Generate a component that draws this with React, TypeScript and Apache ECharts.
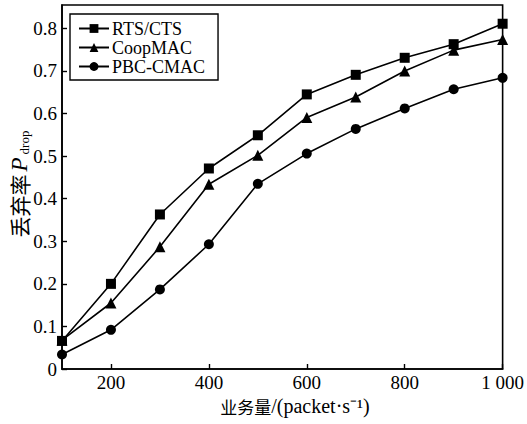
import React, { useEffect, useRef } from "react";
import * as echarts from "echarts";

const xValues = [100, 200, 300, 400, 500, 600, 700, 800, 900, 1000];
const rtsCts = [0.066, 0.2, 0.363, 0.471, 0.549, 0.645, 0.691, 0.731, 0.763, 0.811];
const coopMac = [0.068, 0.155, 0.287, 0.434, 0.502, 0.591, 0.639, 0.7, 0.749, 0.774];
const pbcCmac = [0.034, 0.092, 0.187, 0.293, 0.435, 0.506, 0.564, 0.612, 0.657, 0.684];
const xTicks = [200, 400, 600, 800, 1000];
const yTicks = [0, 0.1, 0.2, 0.3, 0.4, 0.5, 0.6, 0.7, 0.8];
const seriesNames = ["RTS/CTS", "CoopMAC", "PBC-CMAC"];

const SERIF = "Liberation Serif, serif";
const CJK = "Noto Sans CJK SC, sans-serif";

export default function App() {
  const ref = useRef<HTMLDivElement>(null);
  useEffect(() => {
    if (!ref.current) return;
    const chart = echarts.init(ref.current, null, { renderer: "svg" });
    const mk = (name: string, data: number[], symbol: string, size: number) => ({
      name,
      type: "line",
      data: xValues.map((x, i) => [x, data[i]]),
      symbol,
      symbolSize: size,
      showAllSymbol: true,
      lineStyle: { color: "#000", width: 1.6 },
      itemStyle: { color: "#000" },
    });
    chart.setOption({
      animation: false,
      backgroundColor: "#fff",
      textStyle: { fontFamily: SERIF },
      grid: {
        left: 62,
        right: 15,
        top: 5,
        bottom: 55,
        show: true,
        borderColor: "#000",
        borderWidth: 1.6,
        containLabel: false,
      },
      legend: {
        orient: "vertical",
        left: 70,
        top: 14,
        data: seriesNames,
        itemWidth: 30,
        itemHeight: 11,
        itemGap: 0,
        padding: [5, 13, 4, 8],
        borderColor: "#000",
        borderWidth: 1.4,
        backgroundColor: "#fff",
        textStyle: { fontFamily: SERIF, fontSize: 18, lineHeight: 19, color: "#000", padding: [0, 0, 0, -2] },
      },
      xAxis: {
        type: "value",
        min: 100,
        max: 1000,
        interval: 100,
        axisLine: { lineStyle: { color: "#000", width: 1.6 } },
        axisTick: { inside: true, length: 5, customValues: xTicks, lineStyle: { color: "#000", width: 1.4 } },
        axisLabel: {
          customValues: xTicks,
          color: "#000",
          fontFamily: SERIF,
          fontSize: 19,
          margin: 4,
          formatter: (v: number) => (v >= 1000 ? `${Math.floor(v / 1000)} ${String(v % 1000).padStart(3, "0")}` : String(v)),
        },
        splitLine: { show: false },
      },
      yAxis: {
        type: "value",
        min: 0,
        max: 0.855,
        interval: 0.1,
        axisLine: { lineStyle: { color: "#000", width: 1.6 } },
        axisTick: { inside: true, length: 5, customValues: yTicks, lineStyle: { color: "#000", width: 1.4 } },
        axisLabel: {
          customValues: yTicks,
          color: "#000",
          fontFamily: SERIF,
          fontSize: 19,
          margin: 5,
          formatter: (v: number) => (v === 0 ? "0" : v.toFixed(1)),
        },
        splitLine: { show: false },
      },
      graphic: [
        {
          type: "text",
          x: 295,
          y: 406,
          style: {
            text: "{c|业务量}{t|/(packet·s⁻¹)}",
            align: "center",
            verticalAlign: "middle",
            rich: {
              c: { fontFamily: CJK, fontSize: 17, fill: "#000" },
              t: { fontFamily: SERIF, fontSize: 20, fill: "#000" },
            },
          },
        },
        {
          type: "text",
          x: 19,
          y: 184,
          rotation: Math.PI / 2,
          style: {
            text: "{c|丢弃率}{p|P}{s|drop}",
            align: "center",
            verticalAlign: "middle",
            rich: {
              c: { fontFamily: CJK, fontSize: 21, fill: "#000", lineHeight: 24 },
              p: { fontFamily: SERIF, fontStyle: "italic", fontSize: 23, fill: "#000", lineHeight: 24, padding: [0, 3, 0, 3] },
              s: { fontFamily: SERIF, fontSize: 13, fill: "#000", verticalAlign: "bottom", lineHeight: 24, padding: [9, 0, 0, 0] },
            },
          },
        },
      ],
      series: [
        mk(seriesNames[0], rtsCts, "rect", 10),
        mk(seriesNames[1], coopMac, "triangle", 11),
        mk(seriesNames[2], pbcCmac, "circle", 10),
      ],
    });
    return () => chart.dispose();
  }, []);
  return <div ref={ref} style={{ width: 527, height: 424, position: "fixed", left: 0, top: 0 }} />;
}
